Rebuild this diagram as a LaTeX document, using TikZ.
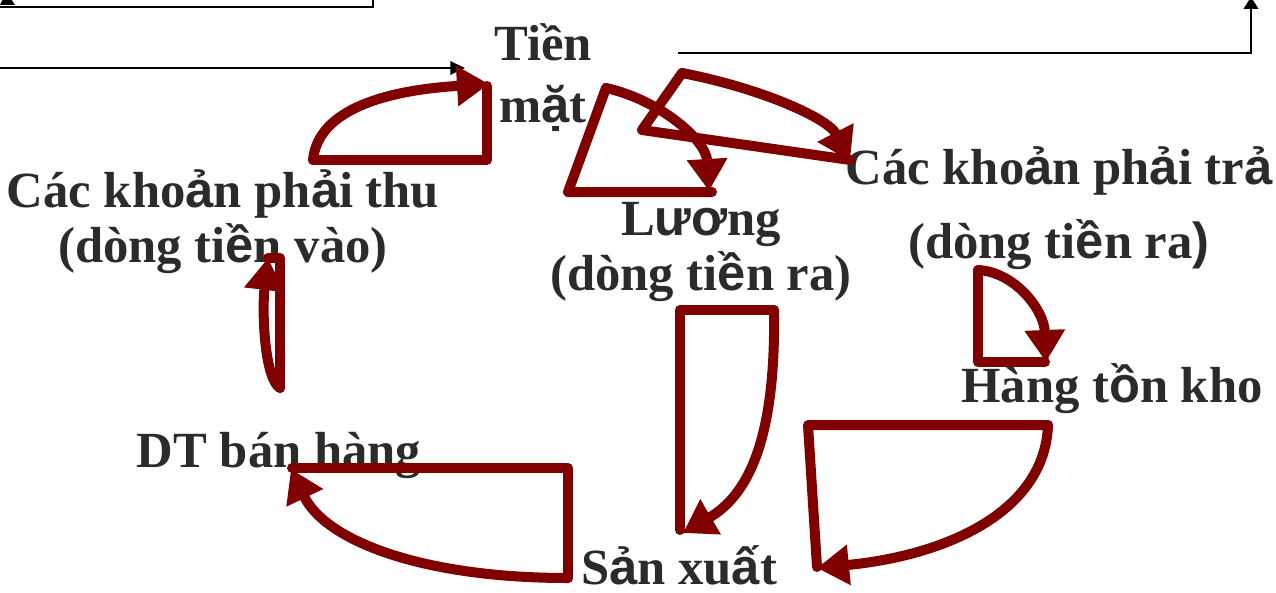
\documentclass[tikz,border=0pt]{standalone}
\usepackage{fontspec}
\setmainfont{Liberation Serif}
\newfontfamily\vnsans{Liberation Sans}
\usetikzlibrary{arrows.meta}
\definecolor{flowred}{RGB}{128,0,0}
\definecolor{labelgray}{RGB}{43,43,43}
\newcommand{\vs}[1]{{\vnsans\bfseries #1}}
\begin{document}
\begin{tikzpicture}[x=0.75pt,y=-0.75pt,
    vnlabel/.style={text=labelgray,font=\bfseries\fontsize{38}{41}\selectfont,
      align=center,inner sep=0pt,anchor=base},
    flowloop/.style={draw=flowred,line width=7.5pt,line join=round,line cap=round},
    bigtip/.style={-{Triangle[length=24pt,width=29pt]}},
    refline/.style={draw=black,line width=1.5pt}]
  \clip (0,0) rectangle (1276,592);
  \fill[white] (0,0) rectangle (1276,592);
  \node[vnlabel] (tien) at (543,122) {Tiền\\[5.5pt]m\vs{ặ}t};
  \node[vnlabel] (phaithu) at (223,262) {Các kho\vs{ả}n ph\vs{ả}i thu\\(dòng ti\vs{ề}n vào)};
  \node[vnlabel] (luong) at (701,290) {L\vs{ươ}ng\\(dòng ti\vs{ề}n ra)};
  \node[vnlabel] (phaitra) at (1059,258) {Các kho\vs{ả}n ph\vs{ả}i tr\vs{ả}\\[14pt](dòng ti\vs{ề}n ra\vs{)}};
  \node[vnlabel] (tonkho) at (1112,402) {Hàng t\vs{ồ}n kho};
  \node[vnlabel] (dtban) at (279,467) {DT bán hàng};
  \node[vnlabel] (sanxuat) at (679,584) {S\vs{ả}n xu\vs{ấ}t};
  % black guide lines
  \draw[refline] (-2,7) -- (373,7) -- (373,-2);
  \fill (0,5) -- (15,5) -- (11,-1) -- (3,-1) -- cycle;
  \draw[refline,-{Triangle[length=11pt,width=10pt]}] (0,68) -- (465,68);
  \draw[refline,-{Triangle[length=9pt,width=11pt]}] (678,53) -- (1251,53) -- (1251,-3);
  % red loops
  \draw[flowloop] (313,160) -- (487,160) -- (487,86);
  \draw[flowloop,bigtip] (313,160) .. controls (318,108) and (390,90) .. (489,84);
  \draw[flowloop] (606,88) -- (568,192) -- (712,192);
  \draw[flowloop,bigtip] (606,88) .. controls (660,100) and (706,140) .. (709,191);
  \draw[flowloop] (682,73) -- (642,130) -- (850,160);
  \draw[flowloop,bigtip] (682,73) .. controls (760,88) and (828,118) .. (850,161);
  \draw[flowloop] (978,270) -- (978,362) -- (1045,362);
  \draw[flowloop,bigtip] (978,270) .. controls (1015,272) and (1044,310) .. (1046,362);
  \draw[flowloop] (774,310) -- (680,310) -- (680,530);
  \draw[flowloop,bigtip] (774,310) .. controls (776,440) and (748,495) .. (683,533);
  \draw[flowloop] (1048,425) -- (808,425) -- (817,567);
  \draw[flowloop,bigtip] (1048,425) .. controls (1045,510) and (950,555) .. (817,568);
  \draw[flowloop] (292,468) -- (568,468) -- (568,578);
  \draw[flowloop,bigtip] (568,578) .. controls (420,578) and (325,540) .. (291,469);
  \draw[flowloop] (280,388) -- (280,258) -- (268,258);
  \draw[flowloop,bigtip] (280,388) .. controls (264,378) and (262,310) .. (268,258);
\end{tikzpicture}
\end{document}
